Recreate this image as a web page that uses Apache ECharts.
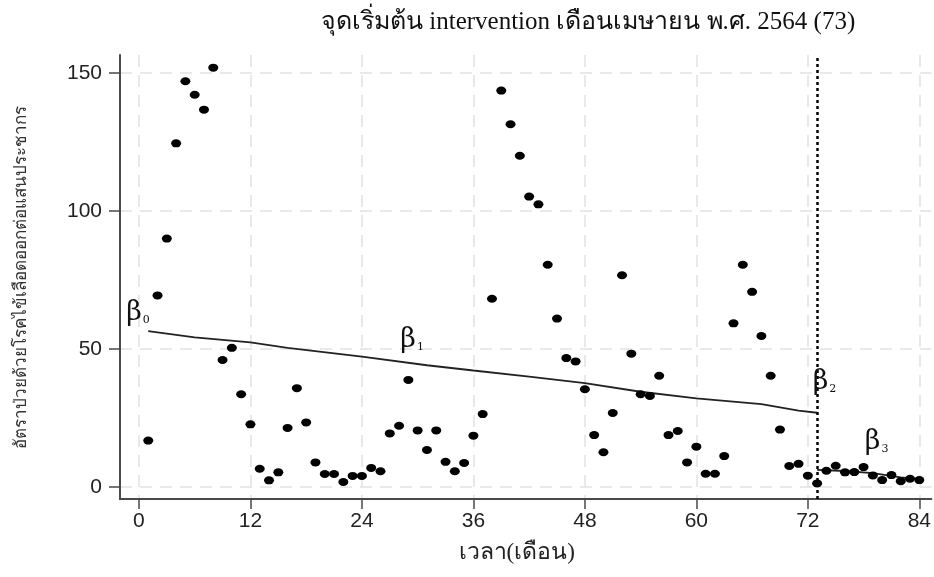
<!DOCTYPE html>
<html>
<head>
<meta charset="utf-8">
<script src="https://cdn.jsdelivr.net/npm/echarts@6/dist/echarts.min.js"></script>
<style>
  html, body { margin: 0; padding: 0; background: #fff; }
  #chart { width: 934px; height: 577px; }
</style>
</head>
<body>
<div id="chart"></div>
<script>
// เดือน (ลำดับเวลา)
const months = [
  1, 2, 3, 4, 5, 6, 7, 8, 9, 10, 11, 12, 13, 14, 15, 16, 17, 18, 19, 20, 21,
  22, 23, 24, 25, 26, 27, 28, 29, 30, 31, 32, 33, 34, 35, 36, 37, 38, 39, 40, 41, 42,
  43, 44, 45, 46, 47, 48, 49, 50, 51, 52, 53, 54, 55, 56, 57, 58, 59, 60, 61, 62, 63,
  64, 65, 66, 67, 68, 69, 70, 71, 72, 73, 74, 75, 76, 77, 78, 79, 80, 81, 82, 83, 84
];
// อัตราป่วยต่อแสนประชากร
const rates = [
  16.8, 69.4, 90, 124.5, 147, 142.1, 136.7, 151.9, 46, 50.4, 33.6, 22.7, 6.6, 2.4, 5.3, 21.4, 35.8, 23.4, 8.9, 4.7, 4.7,
  1.8, 4.0, 4.0, 6.9, 5.7, 19.4, 22.2, 38.8, 20.5, 13.4, 20.5, 9.1, 5.7, 8.7, 18.6, 26.4, 68.2, 143.6, 131.4, 120, 105.2,
  102.4, 80.5, 61, 46.7, 45.5, 35.4, 18.8, 12.6, 26.8, 76.7, 48.3, 33.6, 33, 40.3, 18.8, 20.3, 8.9, 14.6, 4.8, 4.8, 11.2,
  59.3, 80.5, 70.7, 54.7, 40.3, 20.8, 7.6, 8.4, 4.1, 1.3, 5.9, 7.7, 5.3, 5.4, 7.2, 4.2, 2.5, 4.3, 2.1, 3.0, 2.5
];
// เส้นแนวโน้มก่อน intervention (อ่านจากภาพ)
const preMonths = [1, 6, 12, 16, 24, 31, 36, 42, 48, 54, 60, 67, 71, 73];
const preFit = [56.5, 54.2, 52.4, 50.4, 47.2, 44.1, 42.2, 40, 37.6, 34.5, 32.1, 30, 27.7, 26.9];
// เส้นแนวโน้มหลัง intervention
const postMonths = [73, 76, 79, 82, 84];
const postFit = [6.2, 5.8, 5, 3.5, 2.8];

const interventionMonth = 73;
const xTicks = [0, 12, 24, 36, 48, 60, 72, 84];
const yTicks = [0, 50, 100, 150];

const chart = echarts.init(document.getElementById('chart'));

const axisColor = '#4a4a4a';
const gridLine = { show: true, lineStyle: { color: '#e2e2e2', width: 1.5, type: [12, 8] } };
const betaRich = {
  b: { fontFamily: 'DejaVu Serif', fontSize: 27, color: '#111' },
  s: { fontFamily: 'DejaVu Serif', fontSize: 11, color: '#111', padding: [14, 0, 0, 1] }
};

chart.setOption({
  animation: false,
  backgroundColor: '#fff',
  title: {
    text: 'จุดเริ่มต้น intervention เดือนเมษายน พ.ศ. 2564 (73)',
    left: 316,
    top: 5,
    textStyle: { fontFamily: 'Liberation Serif, DejaVu Serif, serif', fontSize: 25, fontWeight: 'normal', color: '#111' }
  },
  grid: { left: 120, right: 0, top: 55, bottom: 78 },
  xAxis: {
    type: 'value',
    min: -2.04,
    max: 85.3,
    name: 'เวลา(เดือน)',
    nameLocation: 'middle',
    nameGap: 42,
    nameTextStyle: { fontFamily: 'Liberation Serif, serif', fontSize: 23, color: '#222', padding: [0, 18, 0, 0] },
    axisLine: { show: true, onZero: false, lineStyle: { color: axisColor, width: 2 } },
    axisTick: { show: true, length: 10, customValues: xTicks, lineStyle: { color: axisColor, width: 1.5 } },
    axisLabel: { customValues: xTicks, margin: 12, fontFamily: 'Liberation Sans, Arial', fontSize: 21, color: '#222' },
    splitLine: gridLine
  },
  yAxis: {
    type: 'value',
    min: -4.35,
    max: 156.5,
    name: 'อัตราป่วยด้วยโรคไข้เลือดออกต่อแสนประชากร',
    nameLocation: 'middle',
    nameRotate: 90,
    nameGap: 90,
    nameTextStyle: { fontFamily: 'Noto Sans, sans-serif', fontSize: 17, color: '#333' },
    axisLine: { show: true, onZero: false, lineStyle: { color: axisColor, width: 2 } },
    axisTick: { show: true, length: 11, customValues: yTicks, lineStyle: { color: axisColor, width: 1.5 } },
    axisLabel: { customValues: yTicks, margin: 18, fontFamily: 'Liberation Sans, Arial', fontSize: 21, color: '#222' },
    splitLine: gridLine
  },
  series: [
    {
      name: 'อัตราป่วย',
      type: 'scatter',
      symbol: 'circle',
      symbolSize: [10, 8],
      itemStyle: { color: '#000', opacity: 1 },
      data: months.map((m, i) => [m, rates[i]]),
      z: 5
    },
    {
      name: 'ก่อน',
      type: 'line',
      showSymbol: false,
      smooth: false,
      lineStyle: { color: '#222', width: 1.8 },
      data: preMonths.map((m, i) => [m, preFit[i]]),
      markLine: {
        silent: true,
        symbol: 'none',
        label: { show: false },
        lineStyle: { color: '#000', width: 2.5, type: [3, 3] },
        data: [{ xAxis: interventionMonth }]
      },
      markPoint: {
        silent: true,
        symbol: 'circle',
        symbolSize: 0,
        label: { show: true, position: 'inside', rich: betaRich },
        data: [
          { coord: [-0.1, 63], label: { formatter: '{b|β}{s|0}' } },
          { coord: [29.4, 53.3], label: { formatter: '{b|β}{s|1}' } },
          { coord: [73.8, 38], label: { formatter: '{b|β}{s|2}' } },
          { coord: [79.4, 16.3], label: { formatter: '{b|β}{s|3}' } }
        ]
      }
    },
    {
      name: 'หลัง',
      type: 'line',
      showSymbol: false,
      lineStyle: { color: '#222', width: 1.8 },
      data: postMonths.map((m, i) => [m, postFit[i]])
    }
  ]
});
</script>
</body>
</html>
